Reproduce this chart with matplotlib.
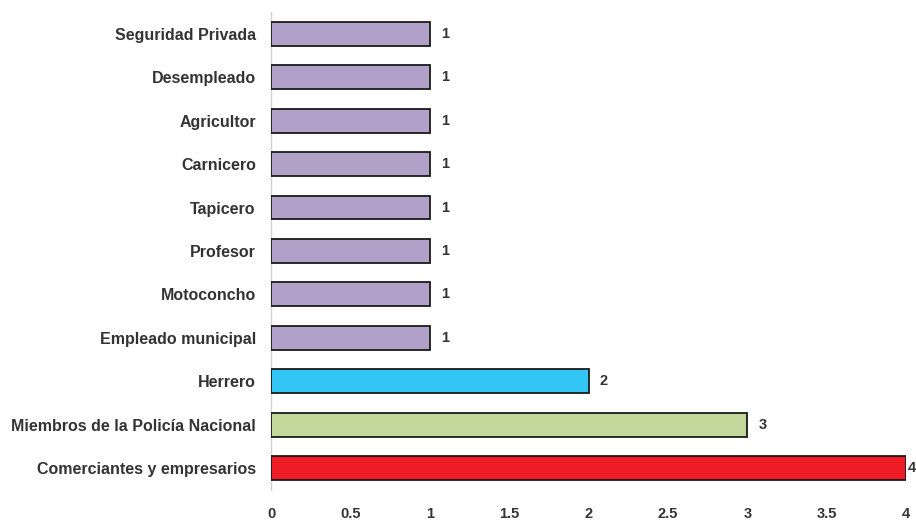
import matplotlib
matplotlib.use("Agg")
import matplotlib.pyplot as plt

categories = [
    "Comerciantes y empresarios",
    "Miembros de la Policía Nacional",
    "Herrero",
    "Empleado municipal",
    "Motoconcho",
    "Profesor",
    "Tapicero",
    "Carnicero",
    "Agricultor",
    "Desempleado",
    "Seguridad Privada",
]
values = [4, 3, 2, 1, 1, 1, 1, 1, 1, 1, 1]
bar_colors = ["#EE1C25", "#C4D79B", "#33C5F3"] + ["#B1A0C7"] * 8
x_ticks = [0, 0.5, 1, 1.5, 2, 2.5, 3, 3.5, 4]
x_tick_labels = ["0", "0.5", "1", "1.5", "2", "2.5", "3", "3.5", "4"]

plt.rcParams["font.family"] = ["Liberation Sans", "DejaVu Sans"]
text_color = "#333333"

fig = plt.figure(figsize=(9.16, 5.21), dpi=100)
ax = fig.add_axes([0.2959, 0.0595, 0.6932, 0.9175])

ypos = list(range(len(categories)))
ax.barh(ypos, values, height=0.55, color=bar_colors,
        edgecolor="#1a1a1a", linewidth=1.3, zorder=3)

vmax = max(values)
for y, v in zip(ypos, values):
    # the longest bar reaches the right edge, so its label sits tight against it
    offset = 0.012 if v == vmax else 0.07
    ax.text(v + offset, y, f"{v}", va="center", ha="left",
            fontsize=10.5, fontweight="bold", color=text_color, clip_on=False)

ax.set_xlim(0, 4)
ax.set_ylim(-0.5, len(categories) - 0.5)
ax.set_yticks(ypos)
ax.set_yticklabels(categories, fontsize=11.5, fontweight="bold", color=text_color)
ax.set_xticks(x_ticks)
ax.set_xticklabels(x_tick_labels, fontsize=10.5, fontweight="bold", color=text_color)
ax.tick_params(axis="y", length=0, pad=11)
ax.tick_params(axis="x", length=0, pad=12.5)

for side in ("top", "right", "bottom"):
    ax.spines[side].set_visible(False)
ax.spines["left"].set_color("#d0d0d0")
ax.spines["left"].set_linewidth(1.0)

fig.savefig("out.png", dpi=100)
